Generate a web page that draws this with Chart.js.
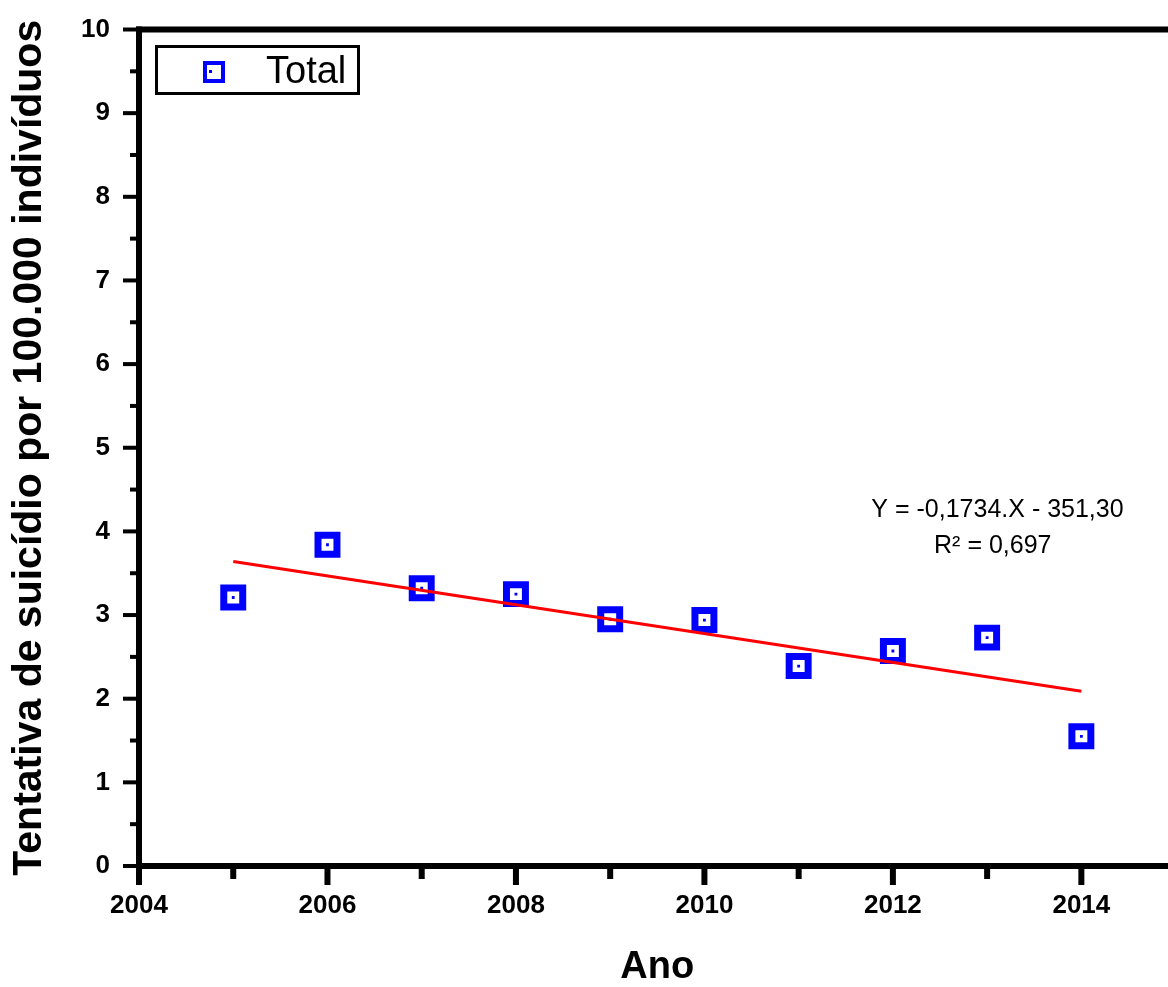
<!DOCTYPE html>
<html>
<head>
<meta charset="UTF-8">
<title>Tentativa de suicídio por 100.000 indivíduos</title>
<script src="https://cdn.jsdelivr.net/npm/chart.js@4.4.1/dist/chart.umd.min.js"></script>
<style>
  html, body { margin: 0; padding: 0; background: #fff; overflow: hidden; }
  #chart { display: block; }
</style>
</head>
<body>
<canvas id="chart" width="1196" height="987"></canvas>
<script>
// data
var years = [2005, 2006, 2007, 2008, 2009, 2010, 2011, 2012, 2013, 2014];
var total = [3.21, 3.84, 3.32, 3.25, 2.95, 2.94, 2.39, 2.57, 2.73, 1.55];

// regression line end points
var trendYears = [2005, 2014];
var trendValues = [3.64, 2.09];

var xLabelYears = [2004, 2006, 2008, 2010, 2012, 2014];
var yLabels = [0, 1, 2, 3, 4, 5, 6, 7, 8, 9, 10];

var eqLines = ["Y = -0,1734.X - 351,30", "R\u00b2 = 0,697"];

var pts = years.map(function (y, i) { return { x: y, y: total[i] }; });
var trend = trendYears.map(function (y, i) { return { x: y, y: trendValues[i] }; });

var BLUE = "#0000ff";
var FONT = "'Liberation Sans', Arial, sans-serif";

function noPad(s) {
    s.paddingTop = 0; s.paddingBottom = 0; s.paddingLeft = 0; s.paddingRight = 0;
}

// axes, ticks, legend box and equation
var frame = {
    id: "frame",
    afterDraw: function (chart) {
        var ctx = chart.ctx, a = chart.chartArea;
        var xs = chart.scales.x, ys = chart.scales.y;
        ctx.save();
        ctx.fillStyle = "#000";
        ctx.fillRect(a.left - 3, a.top - 3, 6, a.bottom - a.top + 6);
        ctx.fillRect(a.left - 3, a.bottom - 3, a.right - a.left + 3, 6);
        ctx.fillRect(a.left - 3, a.top - 3, a.right - a.left + 3, 6);

        for (var v = 2004; v <= 2015; v++) {
            var px = xs.getPixelForValue(v);
            var len = (v % 2 === 0) ? 16 : 10;
            ctx.fillRect(px - 3, a.bottom + 3, 6, len);
        }
        for (var k = 0; k <= 20; k++) {
            var py = ys.getPixelForValue(k / 2);
            var l = (k % 2 === 0) ? 13 : 6;
            ctx.fillRect(a.left - 3 - l, py - 2, l, 4);
        }

        // legend
        ctx.lineWidth = 3;
        ctx.strokeStyle = "#000";
        ctx.strokeRect(156.5, 46.5, 202, 47);
        ctx.lineWidth = 4;
        ctx.strokeStyle = BLUE;
        ctx.strokeRect(205, 63, 18, 18);
        ctx.fillStyle = BLUE;
        ctx.fillRect(209, 70, 3, 3);
        ctx.fillStyle = "#000";
        ctx.font = "38px " + FONT;
        ctx.textAlign = "left";
        ctx.textBaseline = "alphabetic";
        ctx.fillText(chart.data.datasets[0].label, 266, 83);

        // regression equation
        ctx.font = "25px " + FONT;
        ctx.textAlign = "center";
        ctx.textBaseline = "middle";
        ctx.fillText(eqLines[0], xs.getPixelForValue(2013.11), ys.getPixelForValue(4.26));
        ctx.fillText(eqLines[1], xs.getPixelForValue(2013.06), ys.getPixelForValue(3.83));
        ctx.restore();
    }
};

new Chart(document.getElementById("chart"), {
    type: "scatter",
    data: {
        datasets: [
            {
                label: "Total",
                data: pts,
                pointStyle: "rect",
                pointRadius: 13.4,
                pointHoverRadius: 13.4,
                borderWidth: 7,
                borderColor: BLUE,
                backgroundColor: "#fff",
                order: 2
            },
            {
                label: "centre",
                data: pts,
                pointStyle: "rect",
                pointRadius: 2,
                pointHoverRadius: 2,
                borderWidth: 0,
                backgroundColor: BLUE,
                order: 1
            },
            {
                type: "line",
                label: "trend",
                data: trend,
                borderColor: "#ff0000",
                borderWidth: 3,
                pointRadius: 0,
                fill: false,
                order: 0
            }
        ]
    },
    options: {
        responsive: false,
        animation: false,
        layout: { padding: { left: 5, top: 29.5, right: 0, bottom: 0 } },
        plugins: { legend: { display: false }, tooltip: { enabled: false } },
        scales: {
            x: {
                type: "linear",
                min: 2004,
                max: 2015,
                grid: { display: false, drawTicks: false },
                border: { display: false },
                afterFit: function (s) { s.height = 121; noPad(s); },
                ticks: {
                    stepSize: 1,
                    autoSkip: false,
                    maxRotation: 0,
                    padding: 24,
                    color: "#000",
                    font: { family: FONT, size: 26, weight: "bold" },
                    callback: function (v) { return xLabelYears.indexOf(v) >= 0 ? String(v) : ""; }
                },
                title: {
                    display: true,
                    text: "Ano",
                    color: "#000",
                    padding: 0,
                    font: { family: FONT, size: 38, weight: "bold", lineHeight: 1 }
                }
            },
            y: {
                min: 0,
                max: 10,
                grid: { display: false, drawTicks: false },
                border: { display: false },
                afterFit: function (s) { s.width = 134; noPad(s); },
                ticks: {
                    stepSize: 0.5,
                    autoSkip: false,
                    padding: 29,
                    color: "#000",
                    font: { family: FONT, size: 26, weight: "bold" },
                    callback: function (v) { return yLabels.indexOf(v) >= 0 ? String(v) : ""; }
                },
                title: {
                    display: true,
                    text: "Tentativa de suicídio por 100.000 indivíduos",
                    color: "#000",
                    padding: 0,
                    font: { family: FONT, size: 41, weight: "bold", lineHeight: 1.2 }
                }
            }
        }
    },
    plugins: [frame]
});
</script>
</body>
</html>
